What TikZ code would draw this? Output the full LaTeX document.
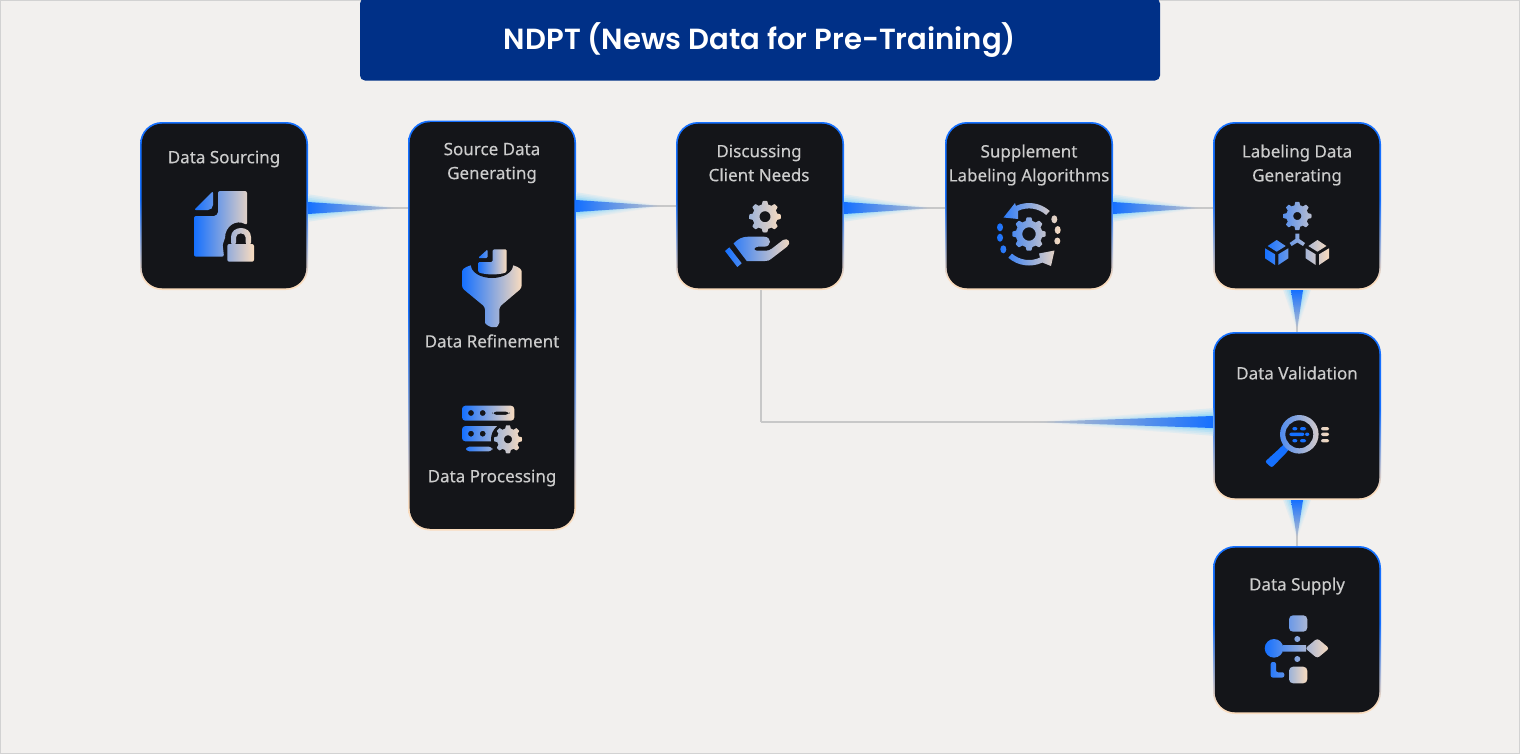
\documentclass[tikz,border=0pt]{standalone}
\usepackage{fontspec}
\setmainfont{Noto Sans}
\newfontfamily\labelfont{Noto Sans}[FakeBold=0.25]
\newfontfamily\titlefont{Poppins SemiBold}
\usetikzlibrary{calc}

\definecolor{paper}{HTML}{F2F0EE}
\definecolor{framegrey}{HTML}{D2D2D2}
\definecolor{titleblue}{HTML}{003087}
\definecolor{cardface}{HTML}{141519}
\definecolor{cardtext}{HTML}{CCCCCC}
\definecolor{iconblue}{HTML}{1570FF}
\definecolor{iconpeach}{HTML}{FADCBE}
\definecolor{iconmid}{HTML}{9DB3D8}
\definecolor{linkglow}{HTML}{8FD6F8}
\definecolor{linkgrey}{HTML}{C8C8C8}

\pgfdeclareverticalshading{cardrim}{100bp}{color(0bp)=(iconpeach); color(28bp)=(iconpeach); color(52bp)=(iconblue); color(100bp)=(iconblue)}

\tikzset{
  every picture/.style={line width=0.75pt},
  titlebar/.style={fill=titleblue,rounded corners=3.75pt,inner sep=0pt,minimum width=600pt,minimum height=61.5pt,text=white,text height=19pt,text depth=4.2pt,font=\titlefont\fontsize{21.85}{26}\selectfont},
  cardedge/.style={shade,shading=cardrim,rounded corners=16.5pt,inner sep=0pt,outer sep=0pt,minimum width=126pt},
  cardinner/.style={fill=cardface,rounded corners=15.2pt,inner sep=0pt,outer sep=0pt,minimum width=123.4pt},
  cardlabel/.style={text=cardtext,align=center,inner sep=0pt,font=\labelfont\fontsize{12.75}{18}\selectfont},
  linkline/.style={draw=linkgrey,line width=1.5pt},
  iconshade/.style={left color=iconblue,right color=iconpeach},
  icontail/.style={left color=iconmid,right color=iconpeach},
}

% gear: centre x, centre y, outer radius, root radius, hole radius
\newcommand{\gearpath}[5]{
  plot[samples=145,domain=0:360,variable=\ang] ({#1+(#4+(#3-#4)*max(0,min(1,0.5+1.2*cos(8*\ang))))*cos(\ang)},{#2+(#4+(#3-#4)*max(0,min(1,0.5+1.2*cos(8*\ang))))*sin(\ang)}) -- cycle
  plot[samples=37,domain=360:0,variable=\ang] ({#1+#5*cos(\ang)},{#2+#5*sin(\ang)}) -- cycle
}

% tapered link: from, to, tip fraction, half width, shade key at start, shade key at end
\newcommand{\linkwedge}[6]{
  \foreach \glowsize/\glowpct in {2.3/22,2/38,1.7/58,1.4/80,1.15/100}{
    \shade[#5=linkglow!\glowpct!paper,#6=paper] ($(#1)+\glowsize*(#4)$) -- ($(#1)!#3!(#2)$) -- ($(#1)-\glowsize*(#4)$) -- cycle;
  }
  \draw[linkline] (#1) -- (#2);
  \shade[#5=iconblue,#6=linkgrey] ($(#1)+(#4)$) -- ($(#1)!#3!(#2)$) -- ($(#1)-(#4)$) -- cycle;
}

\begin{document}
\begin{tikzpicture}[x=0.75pt,y=0.75pt,yscale=-1,xscale=1]
  \useasboundingbox (0,0) rectangle (1520,754);
  %Shape: Page
  \draw[draw=framegrey,fill=paper] (0.5,0.5) rectangle (1519.5,753.5);

  % Title
  \node (title) [titlebar] at (760,39.5) {NDPT (News Data for Pre-Training)};

  %Shape: Cards
  \foreach \cardname/\cardx/\cardy/\cardh in {ds/224/206/126,sg/492/325.5/307.5,dc/760/206/126,sl/1029/206/126,ld/1297/206/126,dv/1297/416/126,su/1297/630/126}{
    \node (\cardname) [cardedge,minimum height=\cardh*1pt] at (\cardx,\cardy) {};
    \node (\cardname in) [cardinner,minimum height=\cardh*1pt-2.6pt] at (\cardx,\cardy) {};
  }

  % Text Node
  \node (dstext) [cardlabel] at (224,159) {Data Sourcing};
  % Text Node
  \node (sgtext) [cardlabel] at (492,163) {Source Data\\Generating};
  % Text Node
  \node (sgrefine) [cardlabel] at (492,341) {Data Refinement};
  % Text Node
  \node (sgprocess) [cardlabel] at (492,478) {Data Processing};
  % Text Node
  \node (dctext) [cardlabel] at (759,163) {Discussing\\Client Needs};
  % Text Node
  \node (sltext) [cardlabel] at (1029,165) {Supplement\\Labeling Algorithms};
  % Text Node
  \node (ldtext) [cardlabel] at (1297,165) {Labeling Data\\Generating};
  % Text Node
  \node (dvtext) [cardlabel] at (1297,373) {Data Validation};
  % Text Node
  \node (sutext) [cardlabel] at (1297,586) {Data Supply};

  %Links
  \coordinate (dsout) at ($(ds.east)+(0,2)$);
  \coordinate (sgin) at (dsout -| sg.west);
  \linkwedge{dsout}{sgin}{0.9}{0,6}{left color}{right color}
  \coordinate (sgout) at (sg.east |- dc.west);
  \linkwedge{sgout}{dc.west}{0.88}{0,6}{left color}{right color}
  \coordinate (dcout) at ($(dc.east)+(0,2)$);
  \coordinate (slin) at (dcout -| sl.west);
  \linkwedge{dcout}{slin}{0.89}{0,6}{left color}{right color}
  \coordinate (slout) at ($(sl.east)+(0,2)$);
  \coordinate (ldin) at (slout -| ld.west);
  \linkwedge{slout}{ldin}{0.89}{0,6}{left color}{right color}
  \linkwedge{ld.south}{dv.north}{0.97}{6,0}{top color}{bottom color}
  \linkwedge{dv.south}{su.north}{0.85}{6,0}{top color}{bottom color}
  \coordinate (dvin) at ($(dv.west)+(0,6)$);
  \coordinate (dcturn) at ($(dc.south |- dvin)+(1,0)$);
  \coordinate (dcdown) at ($(dc.south)+(1,0)$);
  \draw[linkline] (dcdown) -- (dcturn);
  \linkwedge{dvin}{dcturn}{0.4}{0,6}{right color}{left color}

  %Shape: Document with lock
  \shade[iconshade,rounded corners=1.5] (194,210) -- (213,191) -- (213,207) -- (210,210) -- cycle
    (218,191) -- (247,191) -- (247,225) .. controls (236,219) and (225,226) .. (225,240) -- (222.5,243) -- (224,256.7) -- (194,256.7) -- (194,216) -- (212,216) .. controls (216,216) and (218,214) .. (218,210) -- cycle
    (227.3,244) -- (254,244) -- (254,261.7) -- (227.3,261.7) -- cycle
    (231,244.5) -- (231,239) .. controls (231,225) and (251,225) .. (251,239) -- (251,244.5) -- (245.7,244.5) -- (245.7,239.5) .. controls (245.7,232) and (236,232) .. (236,239.5) -- (236,244.5) -- cycle;

  %Shape: Funnel
  \shade[iconshade,rounded corners=2] (462,274) .. controls (462,268) and (470,265) .. (476,265) -- (508,265) .. controls (514,265) and (521.7,268) .. (521.7,274) -- (521.7,288) -- (499.3,307) -- (499.3,320) .. controls (499.3,324) and (497,327) .. (494,327) .. controls (490,327) and (485,324) .. (485,320) -- (485,307) -- (462,288) -- cycle;
  \fill[cardface] (492,265) ellipse (21 and 13);
  \shade[iconshade,rounded corners=1] (478,258) -- (487.7,249.3) -- (487.7,258) -- cycle
    (492.7,249.3) -- (506.7,249.3) -- (506.7,272) .. controls (500,275) and (485,275) .. (478,272) -- (478,262) -- (492.7,262) -- cycle;

  %Shape: Server with gear
  \shade[iconshade,even odd rule,rounded corners=2.5] (462,405.7) rectangle (514.3,420.7)
    (462,426) rectangle (505,441.3)
    (466,446.7) rectangle (492.3,451.3)
    (471,413) circle (3) (482.7,413) circle (3)
    (492.7,411.6) rectangle (509.3,414.8)
    (471,433.7) circle (3) (482.7,433.7) circle (3);
  \fill[cardface] (508,439.3) circle (17);
  \shade[icontail] \gearpath{508}{439.3}{14}{11}{4};

  %Shape: Hand with gear
  \shade[icontail] \gearpath{765}{216.7}{15.8}{12.5}{5.5};
  \shade[iconshade] (725,251) -- (729.3,247.3) -- (741.7,263.3) -- (737.3,267) -- cycle
    (733.5,243.5) .. controls (738,239) and (742,236.7) .. (748,236.7) -- (764,236.7) .. controls (772,236.7) and (772,246.7) .. (764,246.7) -- (758,246.7) .. controls (754,247) and (753,250.5) .. (757,250.7) -- (766,250.7) .. controls (768,250.7) and (770,250) .. (772,248.5) -- (783,240) .. controls (788,237) and (792,243) .. (787,246.7) -- (771,259) .. controls (769,260.5) and (768,261) .. (765,261) -- (746.7,261) -- cycle;

  %Shape: Gear in circular arrows
  \shade[iconshade] \gearpath{1029}{234}{16.7}{13.3}{6.7}
    ([shift=(312:31)]1029,234) arc[start angle=312,end angle=245,radius=31] -- (1015,203) -- (1003.5,217.5) -- (1018,219) -- ([shift=(245:25.6)]1029,234) arc[start angle=245,end angle=312,radius=25.6] -- cycle
    ([shift=(131:31.5)]1029,234) arc[start angle=131,end angle=65,radius=31.5] -- (1051,266) -- (1054.5,250.5) -- (1039,253.5) -- ([shift=(65:26)]1029,234) arc[start angle=65,end angle=131,radius=26] -- cycle
    (1000,227.3) ellipse (3 and 4) (1000,237.7) ellipse (3 and 4) (1003.3,249.3) ellipse (3 and 4)
    (1054.3,219.3) ellipse (3 and 4) (1057.7,230) ellipse (3 and 4) (1057.3,241) ellipse (3 and 3.5);

  %Shape: Gear with cubes
  \shade[iconshade] \gearpath{1297.3}{216}{14.2}{11}{4}
    (1295.3,233.5) -- (1299.3,233.5) -- (1299.3,239) -- (1305,243) -- (1303,246) -- (1297.3,242.5) -- (1291.6,246) -- (1289.6,243) -- (1295.3,239) -- cycle
    (1276.7,240) -- (1285.7,246) -- (1276.7,251.7) -- (1267.7,246) -- cycle
    (1265,248.3) -- (1275,254.3) -- (1275,265) -- (1265,258.3) -- cycle
    (1278.3,254.3) -- (1288.3,248.3) -- (1288.3,258.3) -- (1278.3,265) -- cycle
    (1317.4,240) -- (1326.4,246) -- (1317.4,251.7) -- (1308.4,246) -- cycle
    (1305.7,248.3) -- (1315.7,254.3) -- (1315.7,265) -- (1305.7,258.3) -- cycle
    (1319,254.3) -- (1329,248.3) -- (1329,258.3) -- (1319,265) -- cycle;

  %Shape: Magnifier
  \fill[iconblue,rounded corners=1.5] (1265,461.7) -- (1280,448) -- (1284,444) -- (1289,449) -- (1286.7,452.3) -- (1271.7,467.7) -- cycle;
  \shade[left color=iconblue!75!iconpeach,right color=iconpeach,even odd rule] (1299.3,434.3) circle (19.3) (1299.3,434.3) circle (14)
    {[rounded corners=1.5] (1321,427) rectangle (1329,430.4) (1321,432.6) rectangle (1329,436) (1321,439) rectangle (1329,442.4)};
  \fill[iconblue,rounded corners=1.5] (1292.3,427) rectangle (1297.3,430.4) (1300,427) rectangle (1306,430.4)
    (1289.3,432.6) rectangle (1304.3,436) (1305,432.6) rectangle (1309.3,436)
    (1292.3,439) rectangle (1297.3,442.4) (1300,439) rectangle (1306,442.4);

  %Shape: Flow chart
  \shade[iconshade] (1274,648.3) circle (9.3)
    (1283,645) rectangle (1306,651.5)
    {[rounded corners=2] (1305.3,648.3) -- (1317.3,638.3) -- (1329.3,648.3) -- (1317.3,658.3) -- cycle}
    {[rounded corners=3] (1289,615.3) rectangle (1307.3,631.7)}
    (1297.3,639) circle (3) (1297.3,659) circle (3)
    {[rounded corners=1.5] (1270.7,662) -- (1276,662) -- (1276,672.3) -- (1284.3,672.3) -- (1284.3,677.5) -- (1270.7,677.5) -- cycle};
  \shade[icontail,rounded corners=3] (1289,666.7) rectangle (1307.3,683.3);
\end{tikzpicture}
\end{document}
